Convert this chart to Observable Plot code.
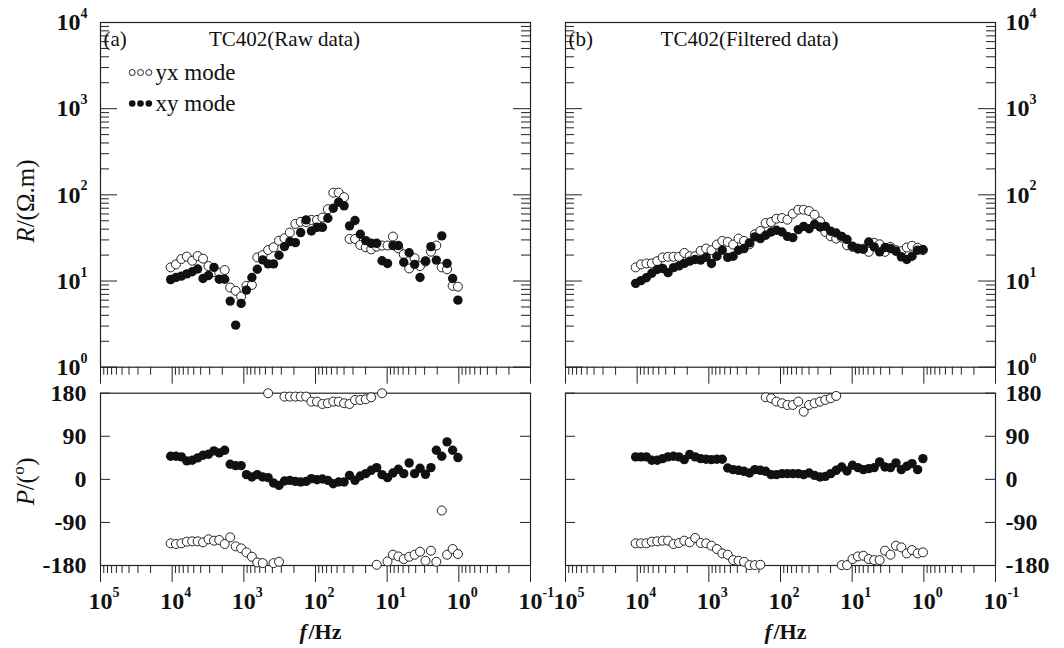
<!DOCTYPE html>
<html><head><meta charset="utf-8">
<script src="https://cdn.jsdelivr.net/npm/d3@7"></script>
<script src="https://cdn.jsdelivr.net/npm/@observablehq/plot@0.6"></script>
<style>
body{margin:0;background:#fff;}
#chart{position:relative;width:1064px;height:648px;overflow:hidden;background:#fff;}
#chart svg{position:absolute;left:0;top:0;}
</style></head><body><div id="chart"></div>
<script>
// ---- data ----
const freq = [10500, 8850, 7440, 6250, 5250, 4410, 3710, 3110, 2610, 2200,
  1850, 1550, 1300, 1090, 919, 772, 649, 545, 458, 385,
  323, 271, 228, 191, 161, 135, 114, 95.3, 80.1, 67.3,
  56.5, 47.5, 39.9, 33.5, 28.1, 23.7, 19.9, 16.7, 14.0, 11.8,
  9.89, 8.31, 6.98, 5.87, 4.93, 4.14, 3.48, 2.92, 2.45, 2.06,
  1.73, 1.46, 1.22, 1.03];

const rawRhoYX = [14.4,15.6,18.0,19.2,17.2,19.5,18.2,14.9,12.7,12.5,
  13.4,8.4,7.7,6.6,8.8,9.0,18.8,20.0,22.9,24.6,
  29.4,31.3,36.5,46.0,48.6,48.2,51.2,51.2,54.5,68.1,
  106,106,94,30.8,30.8,26.2,24.6,23.3,25.1,25.8,
  25.8,32.8,24.0,20.4,14.0,18.4,14.9,16.8,21.9,25.8,
  14.4,13.7,8.8,8.6];
const rawRhoXY = [10.4,11.0,11.4,12.1,12.8,13.8,10.7,11.6,14.4,10.5,
  10.5,5.85,3.08,5.5,7.85,11.0,13.7,17.6,15.8,15.8,
  19.9,25.1,28.7,27.9,36.5,51.2,38.1,42.0,42.0,53.5,
  70.0,82.2,74.5,43.7,50.4,34.9,29.4,27.4,27.4,17.2,
  16.0,25.8,25.8,16.5,21.3,15.6,11.0,17.1,25.1,17.5,
  33.4,16.0,10.7,6.0];
const rawPhsYX = [-133.7,-135.1,-133.7,-130.2,-129.5,-129.5,-131.6,-125.3,-128.1,-126.7,
  -135.1,-121.1,-140,-144.2,-152.6,-161.7,-173.6,-175,179.9,-175,
  -172.2,172.9,172.9,172.9,172.9,172.9,162.4,162.4,157.5,159,
  162.4,162.4,159,157.5,165.9,165.9,167.3,171.5,-178.5,179.9,
  -171.5,-157.5,-161,-166.6,-161.7,-157.5,-151.2,-170.1,-149.1,-172.2,
  -65.1,-157.5,-145.6,-156.1];
const rawPhsXY = [48.3,48.3,46.9,38.5,39.9,44.8,50.4,52.5,59.5,55.3,
  60.9,31.5,28.7,28.7,9.8,4.9,9.8,4.9,3.5,-7.7,
  -12.6,-3.5,-2.1,-4.2,-5.6,-4.2,1.4,-0.7,0.7,-2.1,
  -9.1,-5.6,-5.6,8.4,-2.1,7,11.9,18.9,24.5,9.8,
  3.5,13.3,21,11.9,34.3,11.9,23.1,10.5,24.5,60.9,
  48.3,78.4,60.9,45.5];

const filRhoYX = [14.4,15.6,16.0,16.0,17.0,18.8,19.1,19.1,19.1,21.2,
  19.4,19.4,22.4,23.8,22.8,26.5,29.2,28.4,26.5,31.1,
  29.2,26.7,34.8,38.1,47.1,48.4,52.9,53.8,51.5,60.4,
  67.2,67.2,64.9,58.8,49.2,37.1,33.0,31.1,31.9,26.0,
  24.9,23.8,23.8,21.8,27.7,26.7,21.8,24.9,22.8,22.2,
  24.5,25.6,24.3,22.8];
const filRhoXY = [9.4,10.1,10.9,12.3,13.6,14.0,12.5,14.3,15.0,16.0,
  17.0,17.8,17.5,18.8,16.0,19.4,22.8,18.8,19.4,22.8,
  23.8,27.7,32.5,31.1,34.0,37.1,38.8,37.1,33.0,31.9,
  39.5,43.1,40.5,45.5,42.4,43.1,37.8,36.1,33.0,30.3,
  25.3,23.8,23.4,28.4,24.9,21.8,24.5,23.8,22.2,19.1,
  17.8,19.4,22.8,23.2];
const filPhsYX = [-133.7,-133.7,-133.7,-130.2,-129.5,-128.1,-128.1,-135.1,-133,-128.1,
  -131.6,-122.5,-133,-133.7,-138.6,-145.6,-154.7,-157.5,-168.7,-170.1,
  -172.2,-179.2,-179.2,-178.5,171.5,169.4,162.4,158.9,155.4,155.4,
  162.4,141.4,155.4,158.9,162.4,165.9,169.4,174.3,-179.2,-179.2,
  -166.6,-161,-159.6,-166.6,-168.7,-168.7,-149.1,-157.5,-138.6,-142.1,
  -154.7,-147.7,-154.7,-152.6];
const filPhsXY = [46.9,46.9,46.9,39.9,39.9,43.4,46.9,48.3,46.9,41.3,
  51.8,46.9,43.4,42,41.3,42,42,23.8,20.3,18.9,
  16.8,13.3,20.3,18.9,16.8,9.8,9.8,11.9,11.9,11.9,
  11.9,9.8,13.3,8.4,4.9,6.3,11.9,18.9,25.9,17.5,
  29.4,24.5,20.3,22.4,24.5,36.4,25.9,24.5,34.3,20.3,
  27.3,32.9,20.3,43.4];

const xDecades = [1e5, 1e4, 1e3, 1e2, 1e1, 1e0, 1e-1];
const xExp = ["5", "4", "3", "2", "1", "0", "-1"];
const rhoDecades = [1, 10, 100, 1000, 10000];
const rhoExp = ["0", "1", "2", "3", "4"];
const phaseTicks = [180, 90, 0, -90, -180];
const phaseLabels = ["180", "90", "0", "-90", "-180"];
const titles = ["TC402(Raw data)", "TC402(Filtered data)"];
const panelTags = ["(a)", "(b)"];
const legendLabels = ["yx mode", "xy mode"];

// ---- layout ----
const W = 1064, H = 648;
const FONT = "'Liberation Serif','Times New Roman',Times,serif";
const INK = "#222";
const LX = [100, 530], RX = [565, 995];
const TY = [22, 366.7], BY = [392.7, 565];
const PW = 430;

function minorTicks(lo, hi) {
  const t = [];
  for (let e = lo; e < hi; e++) for (let m = 2; m <= 9; m++) t.push(m * Math.pow(10, e));
  return t;
}
const xMinor = minorTicks(-1, 5);
const yMinor = minorTicks(0, 4);

function pts(vals) { return freq.map((f, i) => ({f, v: vals[i]})).filter(d => d.v != null); }

function panel(xr, yr, ySpec, marks) {
  return Plot.plot({
    width: W, height: H,
    marginLeft: xr[0], marginRight: W - xr[1], marginTop: yr[0], marginBottom: H - yr[1],
    x: {type: "log", domain: [1e5, 1e-1], axis: null},
    y: {...ySpec, axis: null},
    style: "background:transparent;overflow:visible;font-family:" + FONT,
    marks
  });
}
const T = {fill: "#111", fontFamily: FONT, lineAnchor: "middle"};

function xTicks(ph) {
  return [
    Plot.tickX(xMinor, {x: d => d, insetTop: ph, insetBottom: -8, stroke: INK, strokeWidth: 1}),
    Plot.tickX(xDecades, {x: d => d, insetTop: ph, insetBottom: -17, stroke: INK, strokeWidth: 1})
  ];
}
function xLabels() {
  return [
    Plot.text(xDecades, {...T, x: d => d, frameAnchor: "bottom", text: () => "10", dy: 36, fontSize: 24, fontWeight: "bold"}),
    Plot.text(xDecades, {...T, x: d => d, frameAnchor: "bottom", text: (d, i) => xExp[i], textAnchor: "start", dx: 12, dy: 27, fontSize: 14, fontWeight: "bold"}),
    Plot.text(["f"], {...T, frameAnchor: "bottom", dx: -16, dy: 66, textAnchor: "start", fontSize: 22, fontWeight: "bold", fontStyle: "italic"}),
    Plot.text(["/Hz"], {...T, frameAnchor: "bottom", dx: -7, dy: 66, textAnchor: "start", fontSize: 22, fontWeight: "bold"})
  ];
}
function yLogTicks() {
  return [
    Plot.tickY(yMinor, {y: d => d, insetRight: PW - 9, stroke: INK}),
    Plot.tickY(yMinor, {y: d => d, insetLeft: PW - 9, stroke: INK}),
    Plot.tickY(rhoDecades, {y: d => d, insetRight: PW - 17, stroke: INK}),
    Plot.tickY(rhoDecades, {y: d => d, insetLeft: PW - 17, stroke: INK})
  ];
}
function yPhaseTicks() {
  return [
    Plot.tickY(phaseTicks, {y: d => d, insetRight: PW - 10, stroke: INK}),
    Plot.tickY(phaseTicks, {y: d => d, insetLeft: PW - 10, stroke: INK})
  ];
}
function rhoLabels(side) {
  if (side === "left") return [
    Plot.text(rhoDecades, {...T, y: d => d, frameAnchor: "left", text: () => "10", textAnchor: "end", dx: -20, fontSize: 24, fontWeight: "bold"}),
    Plot.text(rhoDecades, {...T, y: d => d, frameAnchor: "left", text: (d, i) => rhoExp[i], textAnchor: "start", dx: -20, dy: -9, fontSize: 14, fontWeight: "bold"})
  ];
  return [
    Plot.text(rhoDecades, {...T, y: d => d, frameAnchor: "right", text: () => "10", textAnchor: "start", dx: 10, fontSize: 24, fontWeight: "bold"}),
    Plot.text(rhoDecades, {...T, y: d => d, frameAnchor: "right", text: (d, i) => rhoExp[i], textAnchor: "start", dx: 34, dy: -9, fontSize: 14, fontWeight: "bold"})
  ];
}
function phaseLabelMarks(side) {
  return [Plot.text(phaseTicks, {...T, y: d => d, frameAnchor: side, text: (d, i) => phaseLabels[i],
    textAnchor: side === "left" ? "end" : "start", dx: side === "left" ? -14 : 10,
    fontSize: 24, fontWeight: "bold"})];
}
function dataDots(yx, xy) {
  return [
    Plot.dot(pts(yx), {x: "f", y: "v", r: 4.5, stroke: "#222", strokeWidth: 1, fill: "white"}),
    Plot.dot(pts(xy), {x: "f", y: "v", r: 4.7, fill: "#111", stroke: "none"})
  ];
}
function headMarks(i) {
  return [
    Plot.text([panelTags[i]], {...T, frameAnchor: "top-left", dx: 3, dy: 17, textAnchor: "start", fontSize: 21}),
    Plot.text([titles[i]], {...T, frameAnchor: "top", dx: -31, dy: 17, fontSize: 21})
  ];
}
function legendMarks() {
  const m = [];
  [31.7, 40, 48.3].forEach(dx => {
    m.push(Plot.dot([0], {frameAnchor: "top-left", dx, dy: 50, r: 3, stroke: "#222", strokeWidth: 1, fill: "white"}));
    m.push(Plot.dot([0], {frameAnchor: "top-left", dx, dy: 81, r: 3.3, fill: "#111"}));
  });
  m.push(Plot.text([legendLabels[0]], {...T, frameAnchor: "top-left", dx: 55, dy: 50, textAnchor: "start", fontSize: 23}));
  m.push(Plot.text([legendLabels[1]], {...T, frameAnchor: "top-left", dx: 55, dy: 81, textAnchor: "start", fontSize: 23}));
  return m;
}
const frame = () => Plot.frame({stroke: INK, strokeWidth: 1.2});
const TPH = TY[1] - TY[0], BPH = BY[1] - BY[0];
const rhoY = {type: "log", domain: [1, 1e4]};
const phsY = {type: "linear", domain: [-180, 180]};

const tl = panel(LX, TY, rhoY, [
  ...yLogTicks(), ...xTicks(TPH), frame(), ...rhoLabels("left"), ...headMarks(0), ...legendMarks(),
  Plot.text(["R"], {...T, frameAnchor: "left", dx: -75, dy: 48, rotate: -90, textAnchor: "start", fontSize: 25, fontStyle: "italic"}),
  Plot.text(["/(Ω.m)"], {...T, frameAnchor: "left", dx: -75, dy: 32.5, rotate: -90, textAnchor: "start", fontSize: 25}),
  ...dataDots(rawRhoYX, rawRhoXY)
]);
const tr = panel(RX, TY, rhoY, [
  ...yLogTicks(), ...xTicks(TPH), frame(), ...rhoLabels("right"), ...headMarks(1),
  ...dataDots(filRhoYX, filRhoXY)
]);
const bl = panel(LX, BY, phsY, [
  ...yPhaseTicks(), ...xTicks(BPH), frame(), ...phaseLabelMarks("left"), ...xLabels(),
  Plot.text(["P"], {...T, frameAnchor: "left", dx: -75, dy: 26, rotate: -90, textAnchor: "start", fontSize: 25, fontStyle: "italic"}),
  Plot.text(["/("], {...T, frameAnchor: "left", dx: -75, dy: 11, rotate: -90, textAnchor: "start", fontSize: 25}),
  Plot.text(["o"], {...T, frameAnchor: "left", dx: -82, dy: -4.5, rotate: -90, textAnchor: "start", fontSize: 17}),
  Plot.text([")"], {...T, frameAnchor: "left", dx: -75, dy: -13.5, rotate: -90, textAnchor: "start", fontSize: 25}),
  ...dataDots(rawPhsYX, rawPhsXY)
]);
const br = panel(RX, BY, phsY, [
  ...yPhaseTicks(), ...xTicks(BPH), frame(), ...phaseLabelMarks("right"), ...xLabels(),
  ...dataDots(filPhsYX, filPhsXY)
]);
const host = document.getElementById("chart");
[tl, tr, bl, br].forEach(s => host.appendChild(s));
</script></body></html>
